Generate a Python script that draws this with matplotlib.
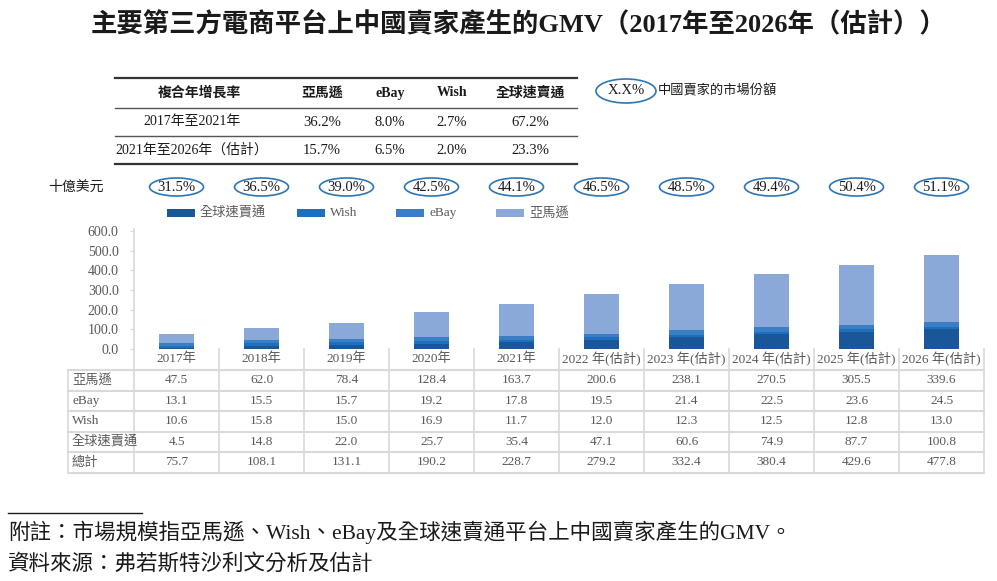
import matplotlib.pyplot as plt
from matplotlib.patches import Ellipse, Rectangle
import numpy as np

plt.rcParams['font.family'] = ['Liberation Serif', 'Noto Sans CJK TC', 'DejaVu Sans']

# data
years = ['2017年', '2018年', '2019年', '2020年', '2021年',
         '2022 年(估計)', '2023 年(估計)', '2024 年(估計)', '2025 年(估計)', '2026 年(估計)']
amazon = [47.5, 62.0, 78.4, 128.4, 163.7, 200.6, 238.1, 270.5, 305.5, 339.6]
ebay = [13.1, 15.5, 15.7, 19.2, 17.8, 19.5, 21.4, 22.5, 23.6, 24.5]
wish = [10.6, 15.8, 15.0, 16.9, 11.7, 12.0, 12.3, 12.5, 12.8, 13.0]
aliexpress = [4.5, 14.8, 22.0, 25.7, 35.4, 47.1, 60.6, 74.9, 87.7, 100.8]
total = [75.7, 108.1, 131.1, 190.2, 228.7, 279.2, 332.4, 380.4, 429.6, 477.8]
share = ['31.5%', '36.5%', '39.0%', '42.5%', '44.1%', '46.5%', '48.5%', '49.4%', '50.4%', '51.1%']

platforms = ['亞馬遜', 'eBay', 'Wish', '全球速賣通']
cagr_periods = ['2017年至2021年', '2021年至2026年（估計）']
cagr_1721 = ['36.2%', '8.0%', '2.7%', '67.2%']
cagr_2126 = ['15.7%', '6.5%', '2.0%', '23.3%']

c_ali = '#1a5799'
c_wish = '#1f6fbf'
c_ebay = '#3a7ec6'
c_amz = '#8aa9d8'
grey_txt = '#595959'
grid_c = '#d9d9d9'
oval_c = '#2e75b6'

W, H = 997, 581
fig = plt.figure(figsize=(W / 100, H / 100), dpi=100)

# overlay in pixel coords
ov = fig.add_axes([0, 0, 1, 1])
ov.set_xlim(0, W)
ov.set_ylim(H, 0)
ov.axis('off')

# plot area in pixels
x0, x1 = 134, 984
col_w = (x1 - x0) / len(years)
y_zero, y_top = 349, 231

ax = fig.add_axes([x0 / W, 1 - y_zero / H, (x1 - x0) / W, (y_zero - y_top) / H])
ax.set_xlim(-0.5, len(years) - 0.5)
ax.set_ylim(0, 600)
ax.patch.set_alpha(0)
x = np.arange(len(years))
bw = 0.41
bottom = np.zeros(len(years))
for vals, col in [(aliexpress, c_ali), (wish, c_wish), (ebay, c_ebay), (amazon, c_amz)]:
    ax.bar(x, vals, bw, bottom=bottom, color=col, linewidth=0)
    bottom += np.array(vals)
for s in ['top', 'right', 'bottom', 'left']:
    ax.spines[s].set_visible(False)
ax.set_yticks(np.arange(0, 601, 100))
ax.set_yticklabels([f'{v:.1f}' for v in np.arange(0, 601, 100)], fontsize=10, color=grey_txt)
ax.tick_params(axis='y', length=3, color=grid_c, pad=8)
ax.set_xticks([])

# title
ov.text(W / 2 + 20, 25, '主要第三方電商平台上中國賣家產生的GMV（2017年至2026年（估計））',
        ha='center', va='center', fontsize=19, fontweight='bold', color='#1a1a1a')

# CAGR table
tx0, tx1 = 115, 577
ov.plot([tx0, tx1], [78, 78], color='#333333', lw=1.6)
ov.plot([tx0, tx1], [108, 108], color='#555555', lw=1.0)
ov.plot([tx0, tx1], [136, 136], color='#555555', lw=1.0)
ov.plot([tx0, tx1], [164, 164], color='#333333', lw=1.6)
cagr_cols = [322, 390, 452, 530]
ov.text(199, 93, '複合年增長率', ha='center', va='center', fontsize=10, fontweight='bold', color='#1a1a1a')
for cx, name in zip(cagr_cols, platforms):
    ov.text(cx, 93, name, ha='center', va='center', fontsize=10, fontweight='bold', color='#1a1a1a')
for ry, period, vals in [(122, cagr_periods[0], cagr_1721), (150, cagr_periods[1], cagr_2126)]:
    ov.text(192, ry, period, ha='center', va='center', fontsize=10, color='#1a1a1a')
    for cx, v in zip(cagr_cols, vals):
        ov.text(cx, ry, v, ha='center', va='center', fontsize=10.5, color='#1a1a1a')

# market share key
ov.add_patch(Ellipse((626, 91), 60, 24, fill=False, ec=oval_c, lw=1.2))
ov.text(626, 91, 'X.X%', ha='center', va='center', fontsize=10.5, color='#1a1a1a')
ov.text(658, 91, '中國賣家的市場份額', ha='left', va='center', fontsize=9.5, color='#1a1a1a')

# unit
ov.text(48, 187, '十億美元', ha='left', va='center', fontsize=10, color='#1a1a1a', style='italic')

# share ovals
for i, s in enumerate(share):
    cx = x0 + col_w * (i + 0.5)
    ov.add_patch(Ellipse((cx, 187), 54, 18, fill=False, ec=oval_c, lw=1.2))
    ov.text(cx, 187.5, s, ha='center', va='center', fontsize=10.5, color='#1a1a1a')

# legend
leg = [('全球速賣通', c_ali, 167), ('Wish', c_wish, 297), ('eBay', c_ebay, 396), ('亞馬遜', c_amz, 496)]
for name, col, lx in leg:
    ov.add_patch(Rectangle((lx, 209), 28, 8, color=col, lw=0))
    ov.text(lx + 33, 213, name, ha='left', va='center', fontsize=9.5, color=grey_txt)

# data table under chart
tl = 68
row_h = 20.5
rows = [('亞馬遜', amazon), ('eBay', ebay), ('Wish', wish), ('全球速賣通', aliexpress), ('總計', total)]
y_lab = 359
ov.plot([x0, x0], [229, 370 + row_h * len(rows)], color=grid_c, lw=1.2)
for i, yl in enumerate(years):
    cx = x0 + col_w * (i + 0.5)
    ov.text(cx, y_lab, yl, ha='center', va='center', fontsize=9.5, color=grey_txt)
    ov.plot([x0 + col_w * (i + 1)] * 2, [349, 370 + row_h * len(rows)], color=grid_c, lw=1.2)
ov.plot([tl, tl], [370, 370 + row_h * len(rows)], color=grid_c, lw=1.2)
for r in range(len(rows) + 1):
    yy = 370 + row_h * r
    ov.plot([tl, x1], [yy, yy], color=grid_c, lw=1.5)
for r, (name, vals) in enumerate(rows):
    yc = 370 + row_h * (r + 0.5)
    ov.text(tl + 4, yc, name, ha='left', va='center', fontsize=9.5, color=grey_txt)
    for i, v in enumerate(vals):
        ov.text(x0 + col_w * (i + 0.5), yc, f'{v:.1f}', ha='center', va='center', fontsize=9.5, color=grey_txt)

# footnotes
ov.plot([8, 142], [513, 513], color='#1a1a1a', lw=1.0)
ov.text(8, 532, '附註：市場規模指亞馬遜、Wish、eBay及全球速賣通平台上中國賣家產生的GMV。',
        ha='left', va='center', fontsize=15.5, color='#1a1a1a')
ov.text(8, 564, '資料來源：弗若斯特沙利文分析及估計', ha='left', va='center', fontsize=15.5,
        color='#1a1a1a', style='italic')

fig.savefig('out.png', dpi=100)
